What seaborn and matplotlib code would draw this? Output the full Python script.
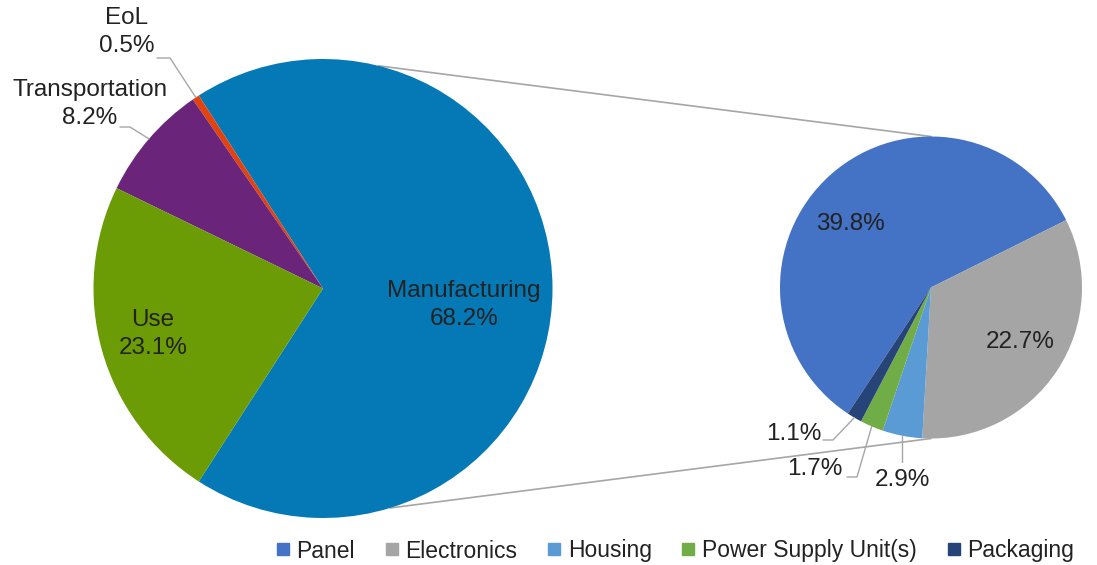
import numpy as np
import matplotlib
matplotlib.use("Agg")
import matplotlib.pyplot as plt
from matplotlib.lines import Line2D
import seaborn as sns

# ---------------- data ----------------
main_labels = ["Manufacturing", "EoL", "Transportation", "Use"]
main_values = [68.2, 0.5, 8.2, 23.1]
main_colors = ["#0579B5", "#E2430E", "#6A2479", "#6B9B05"]

sub_labels = ["Panel", "Electronics", "Housing", "Power Supply Unit(s)", "Packaging"]
sub_values = [39.8, 22.7, 2.9, 1.7, 1.1]
sub_colors = ["#4472C4", "#A5A5A5", "#5B9BD5", "#70AD47", "#264478"]

# ---------------- style ----------------
sns.set_theme(style="white")
plt.rcParams["font.family"] = ["Liberation Sans", "DejaVu Sans"]
TXT = "#222222"
FS = 17.5
LS = 1.3

W, H = 1097, 565
fig = plt.figure(figsize=(W / 100, H / 100), dpi=100)
ax = fig.add_axes([0, 0, 1, 1])


def P(x, y):
    """pixel (top-left origin) -> data coords"""
    return (x, H - y)


# main pie
mc = P(323, 288.5)
mr = 229.5
main_start = -main_values[0] / sum(main_values) * 180.0
mw, _ = ax.pie(main_values, colors=main_colors, center=mc, radius=mr,
               startangle=main_start, counterclock=True,
               wedgeprops=dict(linewidth=0))

# secondary pie
sc = P(931, 287.5)
sr = 151
boundary = 26.5  # angle of Panel/Electronics edge
sub_start = boundary + sub_values[0] / sum(sub_values) * 360.0
sw, _ = ax.pie(sub_values, colors=sub_colors, center=sc, radius=sr,
               startangle=sub_start, counterclock=False,
               wedgeprops=dict(linewidth=0))

ax.set_xlim(0, W)
ax.set_ylim(0, H)
ax.set_aspect("equal")
ax.axis("off")


def edge_pt(w, frac=1.0):
    th = np.deg2rad((w.theta1 + w.theta2) / 2)
    cx, cy = w.center
    return cx + w.r * frac * np.cos(th), cy + w.r * frac * np.sin(th)


def circ_pt(c, r, ang):
    a = np.deg2rad(ang)
    return c[0] + r * np.cos(a), c[1] + r * np.sin(a)


# connector lines
for a_main, a_sub in [(76, 90), (-73, -90)]:
    p1 = circ_pt(mc, mr, a_main)
    p2 = circ_pt(sc, sr, a_sub)
    ax.plot([p1[0], p2[0]], [p1[1], p2[1]], color="#A6A6A6", lw=1.2, zorder=0)

LC = "#A6A6A6"


def leader(pts):
    xs, ys = zip(*pts)
    ax.plot(xs, ys, color=LC, lw=1.0, zorder=3)


def two_line(xy, name, val):
    ax.text(*xy, f"{name}\n{val}%", ha="center", va="center",
            fontsize=FS, color=TXT, linespacing=LS)


# main labels
two_line(P(464, 305), main_labels[0], main_values[0])
two_line(P(153, 334), main_labels[3], main_values[3])
two_line(P(127, 32), main_labels[1], main_values[1])
two_line(P(90, 104), main_labels[2], main_values[2])
leader([P(157, 58), P(170, 58), edge_pt(mw[1])])
leader([P(120, 127), P(130, 127), edge_pt(mw[2])])

# sub labels
ax.text(*P(850, 224), f"{sub_values[0]}%", ha="center", va="center", fontsize=FS, color=TXT)
ax.text(*P(1020, 342), f"{sub_values[1]}%", ha="center", va="center", fontsize=FS, color=TXT)
ax.text(*P(902, 480), f"{sub_values[2]}%", ha="center", va="center", fontsize=FS, color=TXT)
ax.text(*P(815, 469), f"{sub_values[3]}%", ha="center", va="center", fontsize=FS, color=TXT)
ax.text(*P(794, 434), f"{sub_values[4]}%", ha="center", va="center", fontsize=FS, color=TXT)
hx, hy = edge_pt(sw[2])
leader([(hx, H - 462), (hx, hy)])
leader([P(847, 477), P(857, 477), edge_pt(sw[3])])
leader([P(823, 440), P(833, 440), edge_pt(sw[4])])

# legend
handles = [Line2D([0], [0], marker="s", linestyle="none", markersize=8,
                  markerfacecolor=c, markeredgecolor=c) for c in sub_colors]
fig.legend(handles, sub_labels, loc="center", bbox_to_anchor=(675 / W, 1 - 551 / H),
           ncol=5, frameon=False, fontsize=16.5, handlelength=0.6, handletextpad=0.3,
           columnspacing=1.3, labelcolor=TXT, borderpad=0)

fig.savefig("out.png", dpi=100)
